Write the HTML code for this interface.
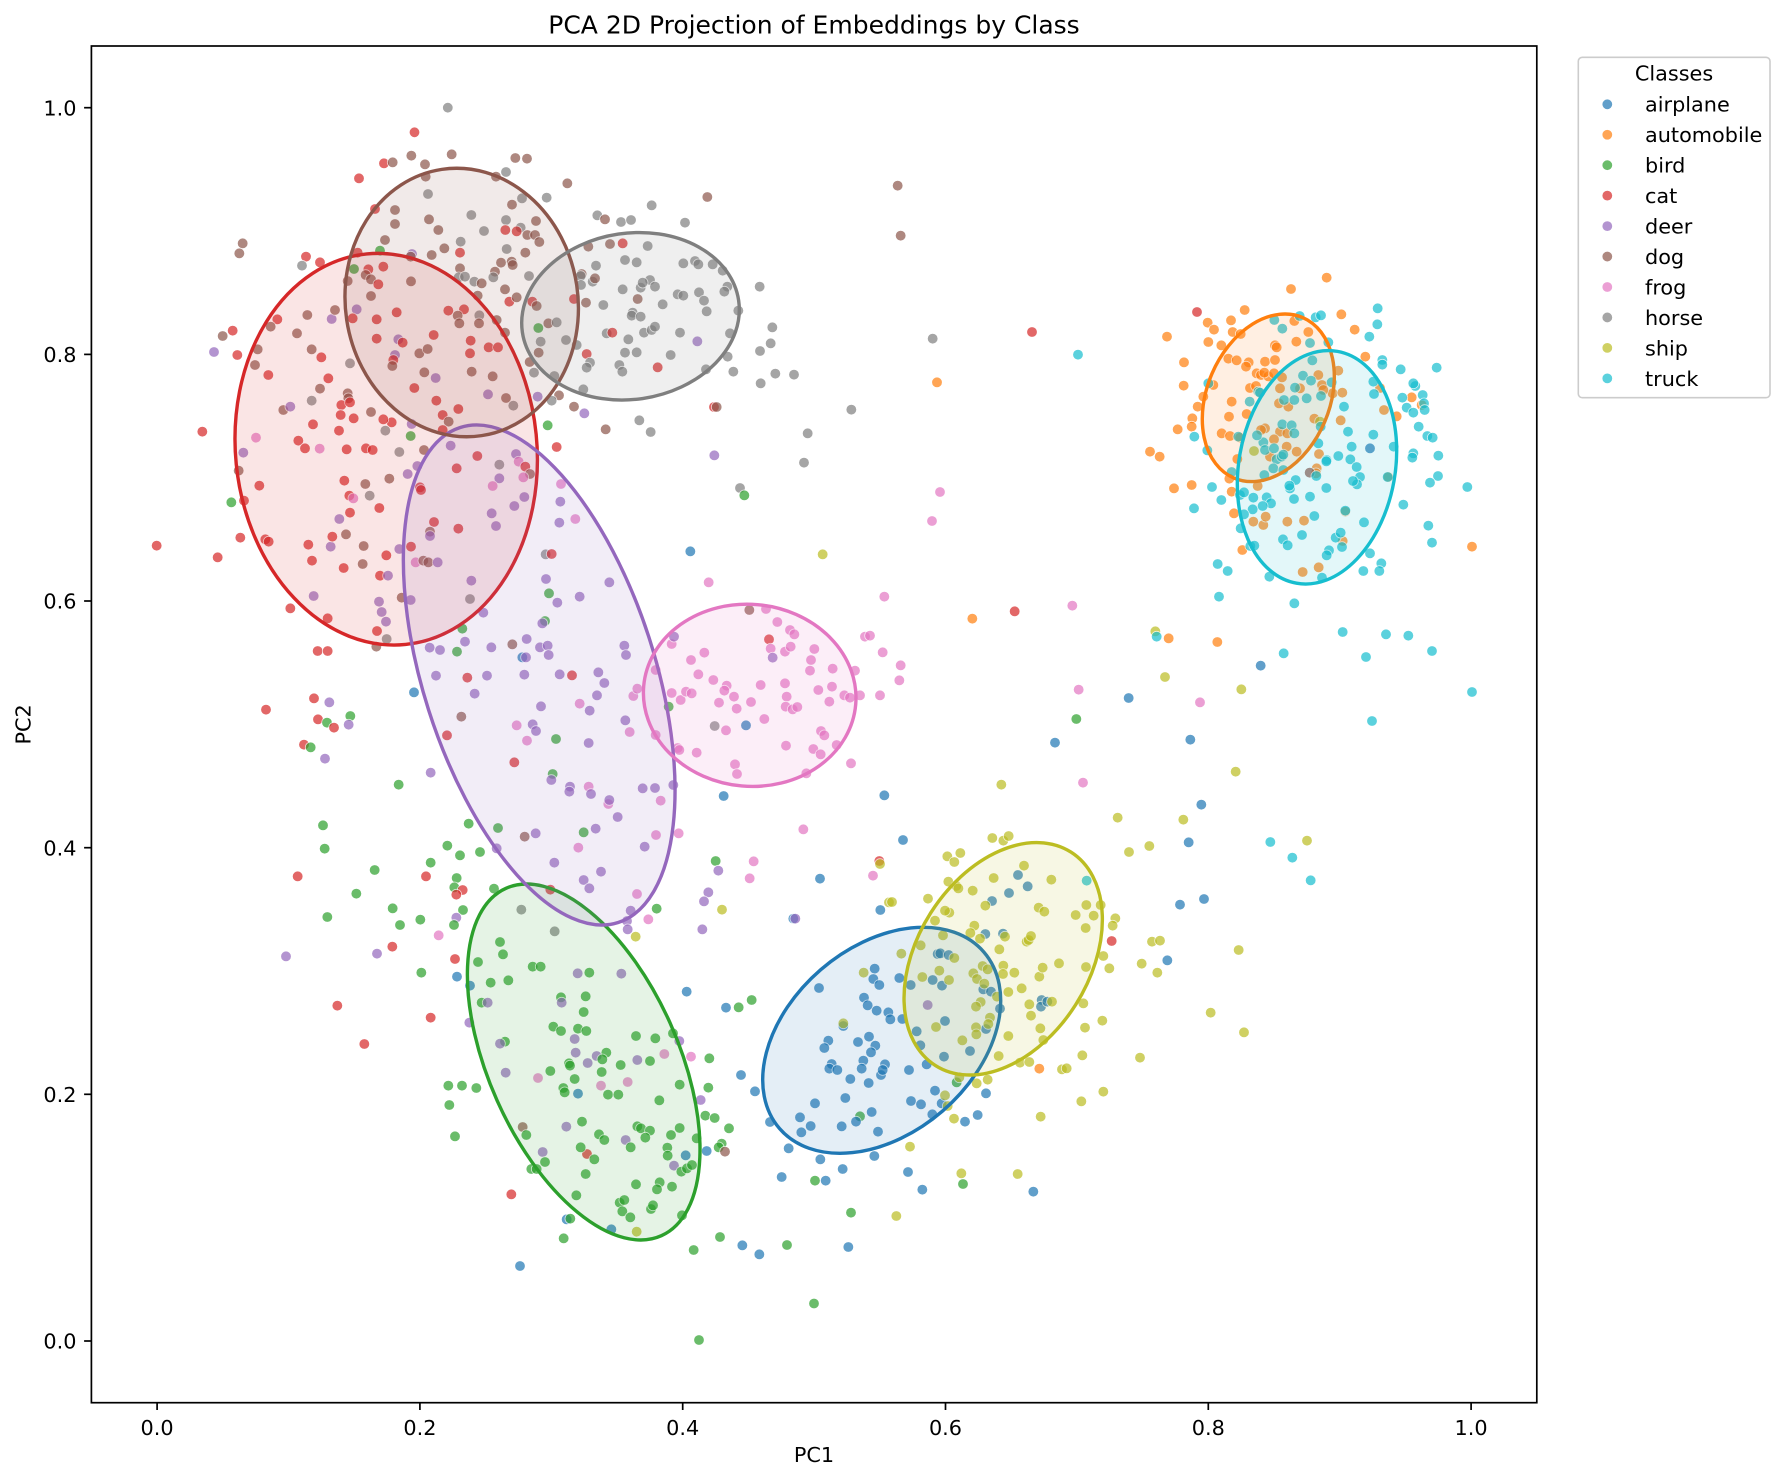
<!DOCTYPE html>
<html><head><meta charset="utf-8"><style>
html,body{margin:0;padding:0;background:#fff}
svg{display:block}
text{font-family:"DejaVu Sans","Liberation Sans",sans-serif;fill:#000}
circle{opacity:.7;stroke:#fff}
.z circle{stroke-width:2.4}
.o circle{stroke-width:.8}
.A{fill:#1f77b4}.M{fill:#ff7f0e}.B{fill:#2ca02c}.C{fill:#d62728}.D{fill:#9467bd}.G{fill:#8c564b}.F{fill:#e377c2}.H{fill:#7f7f7f}.S{fill:#bcbd22}.T{fill:#17becf}
</style></head><body>
<svg width="1785" height="1481" viewBox="0 0 1785 1481" xmlns="http://www.w3.org/2000/svg">
<rect width="1785" height="1481" fill="#fff"/>
<text x="814" y="33.3" font-size="25" text-anchor="middle">PCA 2D Projection of Embeddings by Class</text>

<!-- Z4 -->
<g class="z" transform="translate(220,150) scale(0.333333)">
<circle class="C" cx="492" cy="40" r="16"/><circle class="G" cx="518" cy="37" r="16"/><circle class="G" cx="574" cy="17" r="16"/><circle class="G" cx="615" cy="43" r="16"/><circle class="G" cx="695" cy="13" r="16"/><circle class="G" cx="886" cy="24" r="16"/><circle class="G" cx="921" cy="26" r="16"/><circle class="C" cx="417" cy="85" r="16"/><circle class="H" cx="858" cy="66" r="16"/><circle class="G" cx="828" cy="80" r="16"/><circle class="G" cx="617" cy="80" r="16"/><circle class="G" cx="1042" cy="100" r="16"/><circle class="G" cx="1462" cy="141" r="16"/><circle class="H" cx="1295" cy="166" r="16"/><circle class="H" cx="624" cy="132" r="16"/><circle class="H" cx="906" cy="145" r="16"/><circle class="H" cx="980" cy="143" r="16"/><circle class="C" cx="465" cy="177" r="16"/><circle class="G" cx="525" cy="180" r="16"/><circle class="G" cx="525" cy="222" r="16"/><circle class="G" cx="627" cy="208" r="16"/><circle class="G" cx="655" cy="240" r="16"/><circle class="H" cx="754" cy="195" r="16"/><circle class="G" cx="876" cy="164" r="16"/><circle class="H" cx="858" cy="210" r="16"/><circle class="H" cx="792" cy="243" r="16"/><circle class="H" cx="902" cy="233" r="16"/><circle class="C" cx="856" cy="240" r="16"/><circle class="C" cx="890" cy="244" r="16"/><circle class="G" cx="922" cy="255" r="16"/><circle class="G" cx="948" cy="213" r="16"/><circle class="G" cx="945" cy="255" r="16"/><circle class="G" cx="958" cy="276" r="16"/><circle class="H" cx="1132" cy="196" r="16"/><circle class="G" cx="1155" cy="208" r="16"/><circle class="H" cx="1203" cy="216" r="16"/><circle class="H" cx="1233" cy="210" r="16"/><circle class="H" cx="1395" cy="218" r="16"/><circle class="G" cx="495" cy="270" r="16"/><circle class="H" cx="722" cy="275" r="16"/><circle class="G" cx="673" cy="295" r="16"/><circle class="H" cx="860" cy="297" r="16"/><circle class="G" cx="916" cy="308" r="16"/><circle class="G" cx="68" cy="280" r="16"/><circle class="G" cx="58" cy="310" r="16"/><circle class="C" cx="258" cy="320" r="16"/><circle class="H" cx="246" cy="347" r="16"/><circle class="C" cx="300" cy="337" r="16"/><circle class="B" cx="480" cy="302" r="16"/><circle class="D" cx="576" cy="312" r="16"/><circle class="G" cx="572" cy="320" r="16"/><circle class="C" cx="720" cy="308" r="16"/><circle class="G" cx="635" cy="315" r="16"/><circle class="C" cx="413" cy="308" r="16"/><circle class="G" cx="1105" cy="290" r="16"/><circle class="G" cx="1170" cy="282" r="16"/><circle class="C" cx="1208" cy="280" r="16"/><circle class="H" cx="1283" cy="288" r="16"/><circle class="B" cx="402" cy="357" r="16"/><circle class="C" cx="445" cy="358" r="16"/><circle class="G" cx="437" cy="375" r="16"/><circle class="G" cx="453" cy="388" r="16"/><circle class="C" cx="490" cy="350" r="16"/><circle class="C" cx="475" cy="403" r="16"/><circle class="G" cx="383" cy="393" r="16"/><circle class="G" cx="573" cy="394" r="16"/><circle class="G" cx="720" cy="355" r="16"/><circle class="H" cx="716" cy="382" r="16"/><circle class="H" cx="735" cy="380" r="16"/><circle class="H" cx="763" cy="395" r="16"/><circle class="G" cx="785" cy="400" r="16"/><circle class="G" cx="825" cy="365" r="16"/><circle class="H" cx="820" cy="382" r="16"/><circle class="G" cx="843" cy="338" r="16"/><circle class="G" cx="875" cy="335" r="16"/><circle class="G" cx="878" cy="345" r="16"/><circle class="H" cx="927" cy="378" r="16"/><circle class="G" cx="855" cy="418" r="16"/><circle class="G" cx="773" cy="437" r="16"/><circle class="H" cx="1128" cy="347" r="16"/><circle class="G" cx="1085" cy="372" r="16"/><circle class="H" cx="1082" cy="378" r="16"/><circle class="H" cx="1083" cy="405" r="16"/><circle class="H" cx="1118" cy="395" r="16"/><circle class="G" cx="1125" cy="385" r="16"/><circle class="H" cx="1215" cy="330" r="16"/><circle class="H" cx="1250" cy="337" r="16"/><circle class="H" cx="1390" cy="340" r="16"/><circle class="H" cx="1425" cy="333" r="16"/><circle class="H" cx="1435" cy="343" r="16"/><circle class="H" cx="1478" cy="343" r="16"/><circle class="H" cx="1508" cy="362" r="16"/><circle class="H" cx="1522" cy="410" r="16"/><circle class="H" cx="1513" cy="425" r="16"/><circle class="G" cx="453" cy="438" r="16"/><circle class="C" cx="470" cy="508" r="16"/><circle class="C" cx="530" cy="487" r="16"/><circle class="D" cx="410" cy="478" r="16"/><circle class="D" cx="335" cy="507" r="16"/><circle class="G" cx="345" cy="480" r="16"/><circle class="G" cx="262" cy="495" r="16"/><circle class="C" cx="398" cy="505" r="16"/><circle class="C" cx="172" cy="508" r="16"/><circle class="G" cx="152" cy="530" r="16"/><circle class="G" cx="231" cy="550" r="16"/><circle class="C" cx="38" cy="542" r="16"/><circle class="G" cx="8" cy="558" r="16"/><circle class="C" cx="868" cy="455" r="16"/><circle class="G" cx="890" cy="442" r="16"/><circle class="C" cx="937" cy="455" r="16"/><circle class="G" cx="950" cy="468" r="16"/><circle class="C" cx="1062" cy="447" r="16"/><circle class="G" cx="1098" cy="458" r="16"/><circle class="H" cx="1150" cy="465" r="16"/><circle class="G" cx="1253" cy="447" r="16"/><circle class="H" cx="1208" cy="418" r="16"/><circle class="H" cx="1262" cy="413" r="16"/><circle class="H" cx="1290" cy="390" r="16"/><circle class="H" cx="1305" cy="410" r="16"/><circle class="H" cx="1268" cy="398" r="16"/><circle class="H" cx="1328" cy="463" r="16"/><circle class="H" cx="1373" cy="433" r="16"/><circle class="H" cx="1390" cy="437" r="16"/><circle class="H" cx="1437" cy="427" r="16"/><circle class="H" cx="1452" cy="452" r="16"/><circle class="H" cx="1460" cy="484" r="16"/><circle class="H" cx="1530" cy="550" r="16"/><circle class="H" cx="1555" cy="482" r="16"/><circle class="C" cx="685" cy="482" r="16"/><circle class="C" cx="732" cy="478" r="16"/><circle class="G" cx="713" cy="497" r="16"/><circle class="G" cx="718" cy="520" r="16"/><circle class="H" cx="778" cy="496" r="16"/><circle class="G" cx="777" cy="520" r="16"/><circle class="G" cx="830" cy="510" r="16"/><circle class="G" cx="855" cy="548" r="16"/><circle class="C" cx="470" cy="566" r="16"/><circle class="D" cx="535" cy="568" r="16"/><circle class="C" cx="548" cy="578" r="16"/><circle class="G" cx="275" cy="598" r="16"/><circle class="G" cx="113" cy="598" r="16"/><circle class="C" cx="304" cy="622" r="16"/><circle class="G" cx="105" cy="645" r="16"/><circle class="C" cx="52" cy="615" r="16"/><circle class="D" cx="525" cy="615" r="16"/><circle class="C" cx="520" cy="630" r="16"/><circle class="G" cx="517" cy="648" r="16"/><circle class="G" cx="598" cy="610" r="16"/><circle class="G" cx="623" cy="597" r="16"/><circle class="C" cx="641" cy="555" r="16"/><circle class="C" cx="752" cy="572" r="16"/><circle class="C" cx="750" cy="610" r="16"/><circle class="C" cx="806" cy="592" r="16"/><circle class="C" cx="834" cy="592" r="16"/><circle class="G" cx="755" cy="665" r="16"/><circle class="G" cx="818" cy="679" r="16"/><circle class="D" cx="647" cy="684" r="16"/><circle class="G" cx="613" cy="667" r="16"/><circle class="H" cx="390" cy="640" r="16"/><circle class="C" cx="145" cy="675" r="16"/><circle class="C" cx="325" cy="685" r="16"/><circle class="G" cx="300" cy="716" r="16"/><circle class="H" cx="275" cy="752" r="16"/><circle class="G" cx="190" cy="780" r="16"/><circle class="D" cx="211" cy="770" r="16"/><circle class="G" cx="383" cy="730" r="16"/><circle class="G" cx="385" cy="745" r="16"/><circle class="C" cx="364" cy="765" r="16"/><circle class="C" cx="390" cy="757" r="16"/><circle class="C" cx="362" cy="795" r="16"/><circle class="C" cx="401" cy="805" r="16"/><circle class="G" cx="453" cy="786" r="16"/><circle class="B" cx="955" cy="534" r="16"/><circle class="G" cx="985" cy="520" r="16"/><circle class="H" cx="1010" cy="517" r="16"/><circle class="H" cx="962" cy="575" r="16"/><circle class="H" cx="1038" cy="570" r="16"/><circle class="H" cx="1070" cy="585" r="16"/><circle class="C" cx="1100" cy="612" r="16"/><circle class="H" cx="1110" cy="638" r="16"/><circle class="H" cx="1100" cy="653" r="16"/><circle class="H" cx="1198" cy="645" r="16"/><circle class="H" cx="1207" cy="665" r="16"/><circle class="C" cx="1313" cy="652" r="16"/><circle class="H" cx="1215" cy="608" r="16"/><circle class="H" cx="1250" cy="607" r="16"/><circle class="H" cx="1225" cy="568" r="16"/><circle class="H" cx="1160" cy="550" r="16"/><circle class="C" cx="1177" cy="548" r="16"/><circle class="H" cx="1272" cy="548" r="16"/><circle class="H" cx="1295" cy="540" r="16"/><circle class="H" cx="1305" cy="530" r="16"/><circle class="H" cx="1380" cy="548" r="16"/><circle class="H" cx="1352" cy="615" r="16"/><circle class="H" cx="1458" cy="658" r="16"/><circle class="H" cx="1523" cy="620" r="16"/><circle class="H" cx="1540" cy="665" r="16"/><circle class="D" cx="1432" cy="574" r="16"/><circle class="H" cx="1238" cy="488" r="16"/><circle class="H" cx="1235" cy="497" r="16"/><circle class="H" cx="1262" cy="500" r="16"/><circle class="G" cx="929" cy="636" r="16"/><circle class="G" cx="956" cy="608" r="16"/><circle class="H" cx="942" cy="668" r="16"/><circle class="H" cx="1003" cy="678" r="16"/><circle class="D" cx="804" cy="733" r="16"/><circle class="G" cx="858" cy="744" r="16"/><circle class="H" cx="880" cy="767" r="16"/><circle class="C" cx="715" cy="777" r="16"/><circle class="C" cx="649" cy="752" r="16"/><circle class="C" cx="583" cy="714" r="16"/><circle class="C" cx="668" cy="795" r="16"/><circle class="G" cx="686" cy="815" r="16"/><circle class="C" cx="668" cy="840" r="16"/><circle class="C" cx="515" cy="817" r="16"/><circle class="C" cx="490" cy="808" r="16"/><circle class="C" cx="279" cy="823" r="16"/><circle class="C" cx="357" cy="842" r="16"/><circle class="D" cx="575" cy="822" r="16"/><circle class="B" cx="572" cy="858" r="16"/><circle class="H" cx="496" cy="842" r="16"/><circle class="C" cx="235" cy="872" r="16"/><circle class="C" cx="255" cy="895" r="16"/><circle class="C" cx="380" cy="898" r="16"/><circle class="C" cx="438" cy="895" r="16"/><circle class="C" cx="458" cy="900" r="16"/><circle class="F" cx="108" cy="863" r="16"/><circle class="F" cx="299" cy="896" r="16"/><circle class="D" cx="70" cy="908" r="16"/><circle class="H" cx="538" cy="906" r="16"/><circle class="G" cx="612" cy="900" r="16"/><circle class="H" cx="1090" cy="718" r="16"/><circle class="G" cx="1062" cy="770" r="16"/><circle class="G" cx="1017" cy="736" r="16"/><circle class="H" cx="995" cy="752" r="16"/><circle class="D" cx="953" cy="740" r="16"/><circle class="D" cx="1093" cy="790" r="16"/><circle class="G" cx="1157" cy="838" r="16"/><circle class="H" cx="1258" cy="811" r="16"/><circle class="H" cx="1292" cy="846" r="16"/><circle class="C" cx="1482" cy="771" r="16"/><circle class="G" cx="1490" cy="771" r="16"/><circle class="B" cx="983" cy="826" r="16"/><circle class="C" cx="1010" cy="891" r="16"/><circle class="D" cx="692" cy="887" r="16"/><circle class="C" cx="772" cy="918" r="16"/><circle class="C" cx="710" cy="955" r="16"/><circle class="H" cx="838" cy="944" r="16"/><circle class="D" cx="888" cy="912" r="16"/><circle class="F" cx="896" cy="935" r="16"/><circle class="C" cx="916" cy="950" r="16"/><circle class="G" cx="930" cy="972" r="16"/><circle class="D" cx="838" cy="985" r="16"/><circle class="F" cx="910" cy="982" r="16"/><circle class="F" cx="818" cy="1008" r="16"/><circle class="F" cx="1023" cy="1002" r="16"/><circle class="D" cx="1021" cy="1055" r="16"/><circle class="F" cx="1066" cy="1107" r="16"/><circle class="D" cx="1018" cy="1118" r="16"/><circle class="D" cx="883" cy="1068" r="16"/><circle class="D" cx="913" cy="1041" r="16"/><circle class="D" cx="815" cy="1090" r="16"/><circle class="D" cx="828" cy="1128" r="16"/><circle class="D" cx="1483" cy="916" r="16"/><circle class="D" cx="563" cy="972" r="16"/><circle class="D" cx="592" cy="948" r="16"/><circle class="C" cx="600" cy="1012" r="16"/><circle class="C" cx="603" cy="1020" r="16"/><circle class="G" cx="508" cy="986" r="16"/><circle class="G" cx="436" cy="1002" r="16"/><circle class="H" cx="449" cy="1037" r="16"/><circle class="C" cx="373" cy="992" r="16"/><circle class="C" cx="388" cy="1037" r="16"/><circle class="F" cx="400" cy="1045" r="16"/><circle class="C" cx="390" cy="1088" r="16"/><circle class="C" cx="478" cy="1074" r="16"/><circle class="G" cx="56" cy="962" r="16"/><circle class="C" cx="118" cy="1007" r="16"/><circle class="B" cx="34" cy="1057" r="16"/><circle class="C" cx="72" cy="1052" r="16"/><circle class="D" cx="358" cy="1107" r="16"/><circle class="C" cx="642" cy="1116" r="16"/><circle class="G" cx="630" cy="1145" r="16"/><circle class="D" cx="630" cy="1158" r="16"/><circle class="C" cx="715" cy="1136" r="16"/><circle class="C" cx="61" cy="1163" r="16"/><circle class="C" cx="136" cy="1168" r="16"/><circle class="C" cx="146" cy="1175" r="16"/><circle class="C" cx="265" cy="1184" r="16"/><circle class="D" cx="332" cy="1190" r="16"/><circle class="C" cx="337" cy="1160" r="16"/><circle class="G" cx="378" cy="1153" r="16"/><circle class="G" cx="431" cy="1188" r="16"/><circle class="C" cx="276" cy="1232" r="16"/><circle class="C" cx="371" cy="1254" r="16"/><circle class="G" cx="428" cy="1242" r="16"/><circle class="C" cx="499" cy="1216" r="16"/><circle class="D" cx="538" cy="1197" r="16"/><circle class="C" cx="573" cy="1190" r="16"/><circle class="F" cx="587" cy="1237" r="16"/><circle class="G" cx="610" cy="1232" r="16"/><circle class="G" cx="625" cy="1237" r="16"/><circle class="D" cx="653" cy="1237" r="16"/><circle class="C" cx="480" cy="1277" r="16"/><circle class="D" cx="504" cy="1277" r="16"/><circle class="H" cx="977" cy="1213" r="16"/><circle class="C" cx="995" cy="1212" r="16"/><circle class="A" cx="1411" cy="1204" r="16"/><circle class="F" cx="1466" cy="1297" r="16"/><circle class="D" cx="978" cy="1287" r="16"/><circle class="D" cx="1168" cy="1297" r="16"/><circle class="D" cx="754" cy="1292" r="16"/><circle class="H" cx="750" cy="1347" r="16"/><circle class="B" cx="987" cy="1330" r="16"/><circle class="D" cx="1012" cy="1358" r="16"/><circle class="D" cx="1079" cy="1340" r="16"/><circle class="D" cx="790" cy="1388" r="16"/><circle class="D" cx="281" cy="1338" r="16"/><circle class="C" cx="211" cy="1375" r="16"/><circle class="D" cx="477" cy="1355" r="16"/><circle class="D" cx="485" cy="1386" r="16"/><circle class="D" cx="498" cy="1415" r="16"/><circle class="C" cx="471" cy="1443" r="16"/><circle class="G" cx="545" cy="1343" r="16"/><circle class="D" cx="572" cy="1350" r="16"/><circle class="C" cx="323" cy="1405" r="16"/><circle class="C" cx="293" cy="1503" r="16"/><circle class="C" cx="323" cy="1503" r="16"/><circle class="G" cx="469" cy="1490" r="16"/><circle class="H" cx="500" cy="1467" r="16"/><circle class="B" cx="727" cy="1436" r="16"/><circle class="B" cx="975" cy="1413" r="16"/><circle class="D" cx="967" cy="1420" r="16"/><circle class="G" cx="877" cy="1483" r="16"/><circle class="D" cx="920" cy="1467" r="16"/><circle class="D" cx="960" cy="1492" r="16"/><circle class="D" cx="983" cy="1487" r="16"/><circle class="D" cx="986" cy="1515" r="16"/><circle class="D" cx="814" cy="1492" r="16"/><circle class="D" cx="735" cy="1475" r="16"/><circle class="D" cx="629" cy="1493" r="16"/><circle class="D" cx="660" cy="1500" r="16"/><circle class="B" cx="711" cy="1505" r="16"/><circle class="A" cx="907" cy="1522" r="16"/><circle class="D" cx="918" cy="1522" r="16"/><circle class="D" cx="1213" cy="1487" r="16"/><circle class="D" cx="1218" cy="1515" r="16"/><circle class="F" cx="1355" cy="1482" r="16"/><circle class="F" cx="1413" cy="1530" r="16"/><circle class="F" cx="1453" cy="1508" r="16"/><circle class="D" cx="1362" cy="1460" r="16"/>
</g>

<!-- Z5 -->
<g class="z" transform="translate(390,420) scale(0.333333)">
<circle class="H" cx="1253" cy="40" r="16"/><circle class="H" cx="1242" cy="128" r="16"/><circle class="H" cx="1050" cy="204" r="16"/><circle class="B" cx="1063" cy="226" r="16"/><circle class="S" cx="1298" cy="403" r="16"/><circle class="F" cx="1483" cy="530" r="16"/><circle class="F" cx="1425" cy="650" r="16"/><circle class="F" cx="1440" cy="647" r="16"/><circle class="F" cx="1478" cy="697" r="16"/><circle class="F" cx="1128" cy="567" r="16"/><circle class="G" cx="1078" cy="570" r="16"/><circle class="F" cx="1162" cy="606" r="16"/><circle class="F" cx="1200" cy="630" r="16"/><circle class="F" cx="1213" cy="643" r="16"/><circle class="C" cx="1137" cy="658" r="16"/><circle class="F" cx="1142" cy="686" r="16"/><circle class="D" cx="1148" cy="713" r="16"/><circle class="F" cx="1185" cy="695" r="16"/><circle class="F" cx="1202" cy="680" r="16"/><circle class="F" cx="1273" cy="687" r="16"/><circle class="F" cx="1263" cy="720" r="16"/>
<circle class="D" cx="138" cy="767" r="16"/><circle class="C" cx="232" cy="773" r="16"/><circle class="D" cx="291" cy="767" r="16"/><circle class="D" cx="403" cy="764" r="16"/><circle class="D" cx="509" cy="763" r="16"/><circle class="C" cx="546" cy="766" r="16"/><circle class="D" cx="625" cy="757" r="16"/><circle class="D" cx="643" cy="789" r="16"/><circle class="A" cx="72" cy="817" r="16"/><circle class="D" cx="254" cy="821" r="16"/><circle class="D" cx="621" cy="826" r="16"/><circle class="D" cx="453" cy="859" r="16"/><circle class="D" cx="599" cy="872" r="16"/><circle class="F" cx="569" cy="851" r="16"/><circle class="G" cx="214" cy="890" r="16"/><circle class="C" cx="171" cy="946" r="16"/><circle class="F" cx="380" cy="916" r="16"/><circle class="D" cx="428" cy="913" r="16"/><circle class="D" cx="438" cy="933" r="16"/><circle class="F" cx="411" cy="962" r="16"/><circle class="B" cx="498" cy="957" r="16"/><circle class="D" cx="596" cy="969" r="16"/><circle class="D" cx="706" cy="901" r="16"/><circle class="F" cx="719" cy="936" r="16"/><circle class="F" cx="730" cy="828" r="16"/><circle class="F" cx="742" cy="806" r="16"/><circle class="F" cx="797" cy="750" r="16"/><circle class="B" cx="836" cy="860" r="16"/><circle class="F" cx="797" cy="945" r="16"/><circle class="F" cx="845" cy="819" r="16"/><circle class="F" cx="872" cy="840" r="16"/><circle class="F" cx="888" cy="815" r="16"/><circle class="F" cx="905" cy="820" r="16"/><circle class="F" cx="925" cy="763" r="16"/><circle class="F" cx="970" cy="780" r="16"/><circle class="F" cx="1010" cy="797" r="16"/><circle class="F" cx="1003" cy="812" r="16"/><circle class="F" cx="987" cy="848" r="16"/><circle class="F" cx="1032" cy="830" r="16"/><circle class="F" cx="1040" cy="866" r="16"/><circle class="F" cx="1083" cy="846" r="16"/><circle class="F" cx="1112" cy="795" r="16"/><circle class="F" cx="1185" cy="790" r="16"/><circle class="F" cx="1190" cy="830" r="16"/><circle class="F" cx="1187" cy="860" r="16"/><circle class="F" cx="1208" cy="868" r="16"/><circle class="F" cx="1222" cy="861" r="16"/><circle class="F" cx="1123" cy="897" r="16"/><circle class="H" cx="974" cy="918" r="16"/><circle class="F" cx="1008" cy="931" r="16"/><circle class="A" cx="1068" cy="916" r="16"/><circle class="F" cx="1285" cy="810" r="16"/><circle class="F" cx="1326" cy="800" r="16"/><circle class="F" cx="1328" cy="746" r="16"/><circle class="F" cx="1260" cy="752" r="16"/><circle class="F" cx="1318" cy="845" r="16"/><circle class="F" cx="1293" cy="933" r="16"/><circle class="F" cx="1303" cy="946" r="16"/><circle class="F" cx="1340" cy="975" r="16"/><circle class="F" cx="1270" cy="987" r="16"/><circle class="F" cx="1292" cy="1003" r="16"/><circle class="F" cx="1188" cy="977" r="16"/><circle class="F" cx="1035" cy="1033" r="16"/><circle class="F" cx="1041" cy="1062" r="16"/><circle class="F" cx="1249" cy="1060" r="16"/><circle class="F" cx="1363" cy="826" r="16"/><circle class="F" cx="1380" cy="833" r="16"/><circle class="F" cx="1410" cy="826" r="16"/><circle class="F" cx="1470" cy="826" r="16"/><circle class="F" cx="1395" cy="752" r="16"/><circle class="F" cx="1383" cy="1030" r="16"/><circle class="F" cx="920" cy="998" r="16"/><circle class="F" cx="863" cy="984" r="16"/><circle class="F" cx="868" cy="990" r="16"/><circle class="D" cx="850" cy="1095" r="16"/><circle class="D" cx="758" cy="1105" r="16"/><circle class="D" cx="795" cy="1104" r="16"/><circle class="F" cx="812" cy="1142" r="16"/><circle class="F" cx="655" cy="1152" r="16"/><circle class="D" cx="658" cy="1140" r="16"/><circle class="D" cx="683" cy="1191" r="16"/><circle class="D" cx="540" cy="1100" r="16"/><circle class="D" cx="538" cy="1115" r="16"/><circle class="F" cx="596" cy="1100" r="16"/><circle class="D" cx="603" cy="1122" r="16"/><circle class="B" cx="488" cy="1062" r="16"/><circle class="D" cx="484" cy="1080" r="16"/><circle class="C" cx="373" cy="1027" r="16"/><circle class="D" cx="122" cy="1058" r="16"/><circle class="B" cx="26" cy="1094" r="16"/><circle class="A" cx="1001" cy="1128" r="16"/><circle class="A" cx="1483" cy="1126" r="16"/><circle class="F" cx="1240" cy="1228" r="16"/><circle class="F" cx="866" cy="1240" r="16"/><circle class="F" cx="798" cy="1245" r="16"/><circle class="D" cx="764" cy="1280" r="16"/><circle class="D" cx="617" cy="1226" r="16"/><circle class="B" cx="581" cy="1237" r="16"/><circle class="F" cx="565" cy="1283" r="16"/><circle class="D" cx="437" cy="1240" r="16"/><circle class="G" cx="404" cy="1250" r="16"/><circle class="B" cx="324" cy="1224" r="16"/><circle class="D" cx="320" cy="1285" r="16"/><circle class="D" cx="493" cy="1328" r="16"/><circle class="D" cx="581" cy="1380" r="16"/><circle class="D" cx="598" cy="1405" r="16"/><circle class="D" cx="633" cy="1355" r="16"/><circle class="F" cx="741" cy="1422" r="16"/><circle class="D" cx="722" cy="1472" r="16"/><circle class="B" cx="800" cy="1466" r="16"/><circle class="F" cx="775" cy="1498" r="16"/><circle class="D" cx="711" cy="1503" r="16"/><circle class="D" cx="713" cy="1528" r="16"/><circle class="B" cx="977" cy="1323" r="16"/><circle class="D" cx="985" cy="1352" r="16"/><circle class="F" cx="1091" cy="1324" r="16"/><circle class="F" cx="1079" cy="1375" r="16"/><circle class="A" cx="1290" cy="1376" r="16"/><circle class="F" cx="1449" cy="1367" r="16"/><circle class="C" cx="1468" cy="1323" r="16"/><circle class="S" cx="1470" cy="1332" r="16"/><circle class="D" cx="955" cy="1417" r="16"/><circle class="D" cx="942" cy="1444" r="16"/><circle class="S" cx="996" cy="1469" r="16"/><circle class="D" cx="937" cy="1528" r="16"/><circle class="A" cx="1210" cy="1496" r="16"/><circle class="D" cx="1216" cy="1496" r="16"/><circle class="A" cx="1471" cy="1470" r="16"/><circle class="S" cx="1497" cy="1447" r="16"/><circle class="B" cx="236" cy="1211" r="16"/><circle class="B" cx="172" cy="1277" r="16"/><circle class="B" cx="210" cy="1306" r="16"/><circle class="B" cx="270" cy="1296" r="16"/><circle class="B" cx="122" cy="1328" r="16"/><circle class="C" cx="108" cy="1369" r="16"/><circle class="B" cx="200" cy="1374" r="16"/><circle class="B" cx="193" cy="1402" r="16"/><circle class="C" cx="218" cy="1410" r="16"/><circle class="C" cx="199" cy="1424" r="16"/><circle class="B" cx="312" cy="1406" r="16"/><circle class="B" cx="219" cy="1470" r="16"/><circle class="B" cx="8" cy="1465" r="16"/><circle class="B" cx="91" cy="1499" r="16"/><circle class="B" cx="30" cy="1515" r="16"/><circle class="D" cx="199" cy="1493" r="16"/><circle class="B" cx="192" cy="1515" r="16"/><circle class="F" cx="146" cy="1546" r="16"/><circle class="H" cx="394" cy="1469" r="16"/><circle class="H" cx="494" cy="1534" r="16"/><circle class="C" cx="481" cy="1409" r="16"/><circle class="S" cx="737" cy="1550" r="16"/>
</g>

<!-- Z6 -->
<g class="z" transform="translate(450,860) scale(0.333333)">
<circle class="B" cx="150" cy="246" r="16"/><circle class="B" cx="159" cy="283" r="16"/><circle class="B" cx="84" cy="306" r="16"/><circle class="C" cx="15" cy="297" r="16"/><circle class="A" cx="21" cy="350" r="16"/><circle class="A" cx="60" cy="377" r="16"/><circle class="B" cx="122" cy="368" r="16"/><circle class="B" cx="175" cy="361" r="16"/><circle class="B" cx="248" cy="320" r="16"/><circle class="B" cx="272" cy="320" r="16"/><circle class="D" cx="383" cy="340" r="16"/><circle class="B" cx="418" cy="338" r="16"/><circle class="D" cx="514" cy="341" r="16"/><circle class="A" cx="710" cy="395" r="16"/><circle class="B" cx="905" cy="420" r="16"/><circle class="A" cx="828" cy="443" r="16"/><circle class="B" cx="866" cy="442" r="16"/><circle class="B" cx="95" cy="428" r="16"/><circle class="D" cx="113" cy="428" r="16"/><circle class="B" cx="333" cy="412" r="16"/><circle class="D" cx="335" cy="428" r="16"/><circle class="B" cx="407" cy="409" r="16"/><circle class="B" cx="401" cy="456" r="16"/><circle class="D" cx="58" cy="488" r="16"/><circle class="B" cx="310" cy="500" r="16"/><circle class="B" cx="333" cy="513" r="16"/><circle class="B" cx="384" cy="506" r="16"/><circle class="B" cx="409" cy="513" r="16"/><circle class="D" cx="374" cy="537" r="16"/><circle class="B" cx="165" cy="545" r="16"/><circle class="D" cx="150" cy="551" r="16"/><circle class="B" cx="558" cy="528" r="16"/><circle class="B" cx="616" cy="535" r="16"/><circle class="B" cx="669" cy="520" r="16"/><circle class="D" cx="688" cy="543" r="16"/><circle class="F" cx="643" cy="582" r="16"/><circle class="F" cx="723" cy="590" r="16"/><circle class="B" cx="778" cy="595" r="16"/><circle class="D" cx="377" cy="578" r="16"/><circle class="D" cx="440" cy="588" r="16"/><circle class="B" cx="469" cy="578" r="16"/><circle class="B" cx="457" cy="598" r="16"/><circle class="B" cx="357" cy="610" r="16"/><circle class="B" cx="360" cy="617" r="16"/><circle class="D" cx="413" cy="609" r="16"/><circle class="B" cx="512" cy="615" r="16"/><circle class="D" cx="562" cy="600" r="16"/><circle class="B" cx="600" cy="603" r="16"/><circle class="B" cx="455" cy="636" r="16"/><circle class="B" cx="374" cy="657" r="16"/><circle class="B" cx="301" cy="633" r="16"/><circle class="F" cx="264" cy="654" r="16"/><circle class="D" cx="167" cy="638" r="16"/><circle class="B" cx="36" cy="677" r="16"/><circle class="B" cx="79" cy="684" r="16"/><circle class="B" cx="340" cy="684" r="16"/><circle class="B" cx="344" cy="697" r="16"/><circle class="A" cx="384" cy="701" r="16"/><circle class="F" cx="453" cy="677" r="16"/><circle class="B" cx="474" cy="704" r="16"/><circle class="B" cx="505" cy="704" r="16"/><circle class="F" cx="533" cy="666" r="16"/><circle class="B" cx="689" cy="674" r="16"/><circle class="B" cx="628" cy="721" r="16"/><circle class="B" cx="775" cy="683" r="16"/><circle class="D" cx="752" cy="720" r="16"/><circle class="A" cx="873" cy="645" r="16"/><circle class="A" cx="915" cy="694" r="16"/><circle class="B" cx="15" cy="829" r="16"/><circle class="G" cx="218" cy="801" r="16"/><circle class="B" cx="229" cy="825" r="16"/><circle class="D" cx="349" cy="800" r="16"/><circle class="B" cx="396" cy="785" r="16"/><circle class="B" cx="447" cy="823" r="16"/><circle class="B" cx="463" cy="840" r="16"/><circle class="D" cx="527" cy="840" r="16"/><circle class="B" cx="542" cy="862" r="16"/><circle class="B" cx="562" cy="799" r="16"/><circle class="B" cx="573" cy="805" r="16"/><circle class="B" cx="600" cy="812" r="16"/><circle class="B" cx="586" cy="833" r="16"/><circle class="B" cx="663" cy="825" r="16"/><circle class="B" cx="689" cy="804" r="16"/><circle class="B" cx="740" cy="835" r="16"/><circle class="B" cx="766" cy="767" r="16"/><circle class="B" cx="794" cy="774" r="16"/><circle class="B" cx="837" cy="805" r="16"/><circle class="B" cx="815" cy="851" r="16"/><circle class="B" cx="806" cy="862" r="16"/><circle class="G" cx="825" cy="875" r="16"/><circle class="A" cx="770" cy="873" r="16"/><circle class="B" cx="652" cy="863" r="16"/><circle class="B" cx="653" cy="887" r="16"/><circle class="A" cx="707" cy="886" r="16"/><circle class="D" cx="672" cy="917" r="16"/><circle class="B" cx="694" cy="935" r="16"/><circle class="B" cx="711" cy="925" r="16"/><circle class="B" cx="726" cy="915" r="16"/><circle class="D" cx="278" cy="876" r="16"/><circle class="B" cx="285" cy="906" r="16"/><circle class="B" cx="244" cy="927" r="16"/><circle class="B" cx="260" cy="927" r="16"/><circle class="C" cx="411" cy="882" r="16"/><circle class="B" cx="433" cy="898" r="16"/><circle class="B" cx="392" cy="862" r="16"/><circle class="B" cx="407" cy="942" r="16"/><circle class="C" cx="184" cy="1003" r="16"/><circle class="B" cx="558" cy="973" r="16"/><circle class="B" cx="629" cy="967" r="16"/><circle class="B" cx="621" cy="988" r="16"/><circle class="B" cx="666" cy="980" r="16"/><circle class="B" cx="379" cy="1006" r="16"/><circle class="B" cx="509" cy="1028" r="16"/><circle class="B" cx="523" cy="1020" r="16"/><circle class="B" cx="517" cy="1054" r="16"/><circle class="B" cx="541" cy="1072" r="16"/><circle class="B" cx="603" cy="1047" r="16"/><circle class="B" cx="609" cy="1036" r="16"/><circle class="B" cx="696" cy="1066" r="16"/><circle class="A" cx="350" cy="1078" r="16"/><circle class="B" cx="361" cy="1076" r="16"/><circle class="A" cx="484" cy="1108" r="16"/><circle class="S" cx="560" cy="1115" r="16"/><circle class="B" cx="341" cy="1135" r="16"/><circle class="B" cx="731" cy="1170" r="16"/><circle class="B" cx="810" cy="1131" r="16"/><circle class="A" cx="877" cy="1156" r="16"/><circle class="A" cx="928" cy="1183" r="16"/><circle class="B" cx="1011" cy="1155" r="16"/><circle class="A" cx="1195" cy="1161" r="16"/>
</g>

<!-- Z7 -->
<g class="z" transform="translate(760,820) scale(0.333333)">
<circle class="A" cx="312" cy="533" r="16"/><circle class="A" cx="323" cy="556" r="16"/><circle class="A" cx="350" cy="572" r="16"/><circle class="A" cx="385" cy="577" r="16"/><circle class="A" cx="391" cy="598" r="16"/><circle class="A" cx="427" cy="597" r="16"/><circle class="A" cx="250" cy="618" r="16"/><circle class="A" cx="205" cy="662" r="16"/><circle class="A" cx="193" cy="684" r="16"/><circle class="A" cx="294" cy="666" r="16"/><circle class="A" cx="327" cy="650" r="16"/><circle class="A" cx="346" cy="677" r="16"/><circle class="A" cx="333" cy="697" r="16"/><circle class="A" cx="310" cy="722" r="16"/><circle class="A" cx="305" cy="746" r="16"/><circle class="A" cx="215" cy="732" r="16"/><circle class="A" cx="208" cy="746" r="16"/><circle class="A" cx="232" cy="750" r="16"/><circle class="A" cx="271" cy="777" r="16"/><circle class="A" cx="326" cy="789" r="16"/><circle class="A" cx="375" cy="733" r="16"/><circle class="A" cx="363" cy="765" r="16"/><circle class="A" cx="368" cy="750" r="16"/><circle class="A" cx="447" cy="750" r="16"/><circle class="A" cx="500" cy="733" r="16"/><circle class="A" cx="552" cy="710" r="16"/><circle class="A" cx="256" cy="834" r="16"/><circle class="A" cx="165" cy="850" r="16"/><circle class="A" cx="120" cy="892" r="16"/><circle class="A" cx="152" cy="918" r="16"/><circle class="A" cx="124" cy="937" r="16"/><circle class="A" cx="245" cy="919" r="16"/><circle class="B" cx="300" cy="889" r="16"/><circle class="A" cx="288" cy="905" r="16"/><circle class="A" cx="335" cy="876" r="16"/><circle class="A" cx="354" cy="935" r="16"/><circle class="A" cx="453" cy="843" r="16"/><circle class="A" cx="483" cy="853" r="16"/><circle class="A" cx="525" cy="812" r="16"/><circle class="A" cx="545" cy="850" r="16"/><circle class="A" cx="517" cy="883" r="16"/><circle class="B" cx="590" cy="787" r="16"/><circle class="A" cx="678" cy="820" r="16"/><circle class="A" cx="653" cy="885" r="16"/><circle class="A" cx="615" cy="905" r="16"/><circle class="A" cx="30" cy="906" r="16"/><circle class="A" cx="86" cy="985" r="16"/><circle class="A" cx="181" cy="1018" r="16"/><circle class="A" cx="248" cy="1047" r="16"/><circle class="A" cx="343" cy="1008" r="16"/><circle class="A" cx="65" cy="1071" r="16"/><circle class="B" cx="165" cy="1082" r="16"/><circle class="A" cx="197" cy="1082" r="16"/><circle class="A" cx="444" cy="1056" r="16"/><circle class="A" cx="487" cy="1109" r="16"/><circle class="B" cx="609" cy="1092" r="16"/><circle class="A" cx="820" cy="1115" r="16"/><circle class="B" cx="273" cy="1178" r="16"/><circle class="D" cx="503" cy="555" r="16"/><circle class="A" cx="533" cy="402" r="16"/><circle class="A" cx="541" cy="400" r="16"/><circle class="A" cx="566" cy="405" r="16"/><circle class="A" cx="518" cy="480" r="16"/><circle class="A" cx="546" cy="497" r="16"/><circle class="A" cx="452" cy="495" r="16"/><circle class="A" cx="418" cy="474" r="16"/><circle class="A" cx="344" cy="446" r="16"/><circle class="A" cx="340" cy="477" r="16"/><circle class="A" cx="358" cy="495" r="16"/><circle class="A" cx="177" cy="504" r="16"/><circle class="A" cx="670" cy="508" r="16"/><circle class="A" cx="693" cy="515" r="16"/><circle class="A" cx="720" cy="566" r="16"/><circle class="A" cx="678" cy="627" r="16"/><circle class="A" cx="555" cy="603" r="16"/><circle class="A" cx="470" cy="634" r="16"/><circle class="A" cx="481" cy="676" r="16"/><circle class="A" cx="630" cy="693" r="16"/><circle class="A" cx="845" cy="540" r="16"/><circle class="A" cx="843" cy="560" r="16"/><circle class="A" cx="862" cy="545" r="16"/>
<circle class="S" cx="424" cy="401" r="16"/><circle class="S" cx="482" cy="376" r="16"/><circle class="S" cx="583" cy="414" r="16"/><circle class="S" cx="538" cy="452" r="16"/><circle class="S" cx="487" cy="471" r="16"/><circle class="S" cx="567" cy="480" r="16"/><circle class="S" cx="311" cy="458" r="16"/><circle class="S" cx="668" cy="438" r="16"/><circle class="S" cx="683" cy="448" r="16"/><circle class="S" cx="640" cy="460" r="16"/><circle class="S" cx="651" cy="477" r="16"/><circle class="S" cx="673" cy="491" r="16"/><circle class="S" cx="730" cy="437" r="16"/><circle class="S" cx="729" cy="462" r="16"/><circle class="S" cx="763" cy="458" r="16"/><circle class="S" cx="718" cy="388" r="16"/><circle class="S" cx="800" cy="365" r="16"/><circle class="S" cx="806" cy="360" r="16"/><circle class="S" cx="838" cy="470" r="16"/><circle class="S" cx="848" cy="443" r="16"/><circle class="S" cx="897" cy="430" r="16"/><circle class="S" cx="978" cy="441" r="16"/><circle class="S" cx="1048" cy="445" r="16"/><circle class="S" cx="1030" cy="408" r="16"/><circle class="S" cx="1145" cy="431" r="16"/><circle class="S" cx="1192" cy="458" r="16"/><circle class="S" cx="1176" cy="365" r="16"/><circle class="S" cx="1200" cy="362" r="16"/><circle class="C" cx="1055" cy="363" r="16"/><circle class="S" cx="745" cy="516" r="16"/><circle class="S" cx="785" cy="505" r="16"/><circle class="S" cx="711" cy="530" r="16"/><circle class="S" cx="662" cy="546" r="16"/><circle class="S" cx="648" cy="560" r="16"/><circle class="S" cx="690" cy="593" r="16"/><circle class="S" cx="685" cy="612" r="16"/><circle class="S" cx="648" cy="622" r="16"/><circle class="S" cx="649" cy="643" r="16"/><circle class="S" cx="528" cy="621" r="16"/><circle class="S" cx="607" cy="661" r="16"/><circle class="S" cx="808" cy="553" r="16"/><circle class="S" cx="813" cy="587" r="16"/><circle class="S" cx="876" cy="545" r="16"/><circle class="S" cx="841" cy="625" r="16"/><circle class="S" cx="850" cy="660" r="16"/><circle class="S" cx="745" cy="648" r="16"/><circle class="S" cx="970" cy="550" r="16"/><circle class="S" cx="975" cy="623" r="16"/><circle class="S" cx="1027" cy="602" r="16"/><circle class="S" cx="967" cy="706" r="16"/><circle class="S" cx="716" cy="708" r="16"/><circle class="S" cx="780" cy="728" r="16"/><circle class="S" cx="808" cy="726" r="16"/><circle class="M" cx="838" cy="746" r="16"/><circle class="S" cx="906" cy="748" r="16"/><circle class="S" cx="920" cy="745" r="16"/><circle class="S" cx="1140" cy="713" r="16"/><circle class="S" cx="964" cy="844" r="16"/><circle class="S" cx="1030" cy="815" r="16"/><circle class="S" cx="842" cy="890" r="16"/><circle class="S" cx="250" cy="610" r="16"/><circle class="S" cx="555" cy="826" r="16"/><circle class="S" cx="563" cy="858" r="16"/><circle class="S" cx="598" cy="772" r="16"/><circle class="S" cx="650" cy="790" r="16"/><circle class="S" cx="683" cy="779" r="16"/><circle class="S" cx="582" cy="896" r="16"/><circle class="S" cx="450" cy="980" r="16"/><circle class="S" cx="604" cy="1060" r="16"/><circle class="S" cx="773" cy="1062" r="16"/><circle class="S" cx="409" cy="1188" r="16"/>
</g>

<!-- Z12 -->
<g class="z" transform="translate(890,600) scale(0.333333)">
<circle class="F" cx="547" cy="17" r="16"/><circle class="C" cx="374" cy="34" r="16"/><circle class="M" cx="247" cy="56" r="16"/><circle class="S" cx="796" cy="94" r="16"/><circle class="T" cx="800" cy="110" r="16"/><circle class="M" cx="836" cy="115" r="16"/><circle class="M" cx="982" cy="126" r="16"/><circle class="T" cx="1358" cy="96" r="16"/><circle class="T" cx="1488" cy="103" r="16"/><circle class="T" cx="1555" cy="107" r="16"/><circle class="T" cx="1428" cy="171" r="16"/><circle class="T" cx="1181" cy="160" r="16"/><circle class="A" cx="1112" cy="197" r="16"/><circle class="S" cx="825" cy="231" r="16"/><circle class="S" cx="1054" cy="268" r="16"/><circle class="T" cx="1446" cy="363" r="16"/><circle class="F" cx="32" cy="196" r="16"/><circle class="F" cx="28" cy="241" r="16"/><circle class="F" cx="566" cy="269" r="16"/><circle class="A" cx="716" cy="294" r="16"/><circle class="F" cx="930" cy="307" r="16"/><circle class="B" cx="559" cy="357" r="16"/><circle class="A" cx="495" cy="428" r="16"/><circle class="A" cx="901" cy="419" r="16"/><circle class="S" cx="1037" cy="515" r="16"/><circle class="S" cx="334" cy="554" r="16"/><circle class="F" cx="579" cy="548" r="16"/><circle class="A" cx="934" cy="614" r="16"/><circle class="S" cx="683" cy="653" r="16"/><circle class="S" cx="880" cy="659" r="16"/><circle class="A" cx="39" cy="720" r="16"/><circle class="S" cx="307" cy="714" r="16"/><circle class="S" cx="340" cy="722" r="16"/><circle class="S" cx="356" cy="708" r="16"/><circle class="S" cx="172" cy="769" r="16"/><circle class="S" cx="211" cy="759" r="16"/><circle class="S" cx="193" cy="786" r="16"/><circle class="S" cx="717" cy="756" r="16"/><circle class="S" cx="778" cy="738" r="16"/><circle class="A" cx="896" cy="727" r="16"/><circle class="T" cx="1141" cy="726" r="16"/><circle class="T" cx="1207" cy="773" r="16"/><circle class="S" cx="1251" cy="722" r="16"/><circle class="T" cx="1262" cy="841" r="16"/><circle class="S" cx="402" cy="797" r="16"/><circle class="A" cx="384" cy="825" r="16"/><circle class="A" cx="413" cy="859" r="16"/><circle class="A" cx="357" cy="879" r="16"/><circle class="S" cx="311" cy="834" r="16"/><circle class="S" cx="484" cy="839" r="16"/><circle class="T" cx="590" cy="842" r="16"/><circle class="S" cx="175" cy="845" r="16"/><circle class="S" cx="199" cy="858" r="16"/><circle class="S" cx="205" cy="865" r="16"/><circle class="S" cx="248" cy="872" r="16"/><circle class="A" cx="306" cy="903" r="16"/><circle class="S" cx="114" cy="896" r="16"/><circle class="S" cx="6" cy="906" r="16"/><circle class="S" cx="286" cy="917" r="16"/><circle class="S" cx="446" cy="923" r="16"/><circle class="S" cx="463" cy="935" r="16"/><circle class="S" cx="589" cy="915" r="16"/><circle class="S" cx="632" cy="915" r="16"/><circle class="S" cx="557" cy="945" r="16"/><circle class="S" cx="611" cy="947" r="16"/><circle class="S" cx="676" cy="955" r="16"/><circle class="S" cx="668" cy="977" r="16"/><circle class="S" cx="587" cy="984" r="16"/><circle class="S" cx="178" cy="938" r="16"/><circle class="S" cx="165" cy="932" r="16"/><circle class="A" cx="870" cy="914" r="16"/><circle class="A" cx="942" cy="897" r="16"/><circle class="S" cx="135" cy="962" r="16"/><circle class="S" cx="253" cy="977" r="16"/><circle class="S" cx="241" cy="999" r="16"/><circle class="A" cx="286" cy="1002" r="16"/><circle class="A" cx="339" cy="1001" r="16"/><circle class="S" cx="345" cy="1010" r="16"/><circle class="S" cx="270" cy="1016" r="16"/><circle class="S" cx="159" cy="1006" r="16"/><circle class="S" cx="423" cy="1008" r="16"/><circle class="S" cx="1046" cy="1050" r="16"/><circle class="A" cx="832" cy="1081" r="16"/><circle class="S" cx="1062" cy="1297" r="16"/><circle class="S" cx="962" cy="1238" r="16"/>
</g>

<!-- Z8 -->
<g class="z" transform="translate(1150,260) scale(0.333333)">
<circle class="M" cx="530" cy="53" r="16"/><circle class="M" cx="423" cy="87" r="16"/><circle class="C" cx="141" cy="156" r="16"/><circle class="M" cx="284" cy="150" r="16"/><circle class="M" cx="173" cy="188" r="16"/><circle class="M" cx="192" cy="209" r="16"/><circle class="M" cx="243" cy="181" r="16"/><circle class="M" cx="248" cy="216" r="16"/><circle class="M" cx="272" cy="222" r="16"/><circle class="M" cx="433" cy="183" r="16"/><circle class="M" cx="574" cy="163" r="16"/><circle class="M" cx="614" cy="209" r="16"/><circle class="M" cx="51" cy="230" r="16"/><circle class="M" cx="175" cy="246" r="16"/><circle class="M" cx="214" cy="256" r="16"/><circle class="M" cx="475" cy="216" r="16"/><circle class="M" cx="439" cy="245" r="16"/><circle class="M" cx="375" cy="256" r="16"/><circle class="M" cx="380" cy="262" r="16"/><circle class="M" cx="646" cy="290" r="16"/><circle class="M" cx="102" cy="307" r="16"/><circle class="M" cx="235" cy="296" r="16"/><circle class="M" cx="260" cy="301" r="16"/><circle class="M" cx="296" cy="307" r="16"/><circle class="M" cx="288" cy="320" r="16"/><circle class="M" cx="345" cy="305" r="16"/><circle class="M" cx="375" cy="300" r="16"/><circle class="M" cx="320" cy="340" r="16"/><circle class="M" cx="333" cy="345" r="16"/><circle class="M" cx="355" cy="349" r="16"/><circle class="M" cx="343" cy="338" r="16"/><circle class="M" cx="372" cy="340" r="16"/><circle class="M" cx="396" cy="352" r="16"/><circle class="M" cx="101" cy="377" r="16"/><circle class="M" cx="190" cy="375" r="16"/><circle class="M" cx="300" cy="384" r="16"/><circle class="M" cx="318" cy="378" r="16"/><circle class="M" cx="390" cy="385" r="16"/><circle class="M" cx="505" cy="345" r="16"/><circle class="M" cx="516" cy="375" r="16"/><circle class="M" cx="565" cy="332" r="16"/><circle class="M" cx="690" cy="384" r="16"/><circle class="M" cx="160" cy="410" r="16"/><circle class="M" cx="143" cy="440" r="16"/><circle class="M" cx="245" cy="425" r="16"/><circle class="M" cx="237" cy="470" r="16"/><circle class="M" cx="290" cy="462" r="16"/><circle class="M" cx="127" cy="475" r="16"/><circle class="M" cx="125" cy="500" r="16"/><circle class="M" cx="83" cy="508" r="16"/><circle class="M" cx="215" cy="520" r="16"/><circle class="M" cx="240" cy="528" r="16"/><circle class="M" cx="270" cy="533" r="16"/><circle class="M" cx="450" cy="385" r="16"/><circle class="M" cx="387" cy="430" r="16"/><circle class="M" cx="415" cy="440" r="16"/><circle class="M" cx="548" cy="400" r="16"/><circle class="M" cx="577" cy="398" r="16"/><circle class="M" cx="520" cy="390" r="16"/><circle class="M" cx="785" cy="412" r="16"/><circle class="M" cx="815" cy="435" r="16"/><circle class="M" cx="702" cy="450" r="16"/><circle class="M" cx="740" cy="469" r="16"/><circle class="M" cx="966" cy="860" r="16"/><circle class="M" cx="493" cy="476" r="16"/><circle class="M" cx="572" cy="481" r="16"/><circle class="M" cx="507" cy="582" r="16"/><circle class="M" cx="500" cy="625" r="16"/><circle class="M" cx="498" cy="640" r="16"/><circle class="M" cx="360" cy="590" r="16"/><circle class="M" cx="410" cy="560" r="16"/><circle class="M" cx="440" cy="575" r="16"/><circle class="M" cx="345" cy="505" r="16"/><circle class="M" cx="333" cy="510" r="16"/><circle class="M" cx="390" cy="515" r="16"/><circle class="M" cx="372" cy="538" r="16"/><circle class="M" cx="412" cy="520" r="16"/><circle class="M" cx="262" cy="597" r="16"/><circle class="M" cx="29" cy="590" r="16"/><circle class="M" cx="0" cy="575" r="16"/><circle class="M" cx="238" cy="656" r="16"/><circle class="M" cx="72" cy="685" r="16"/><circle class="M" cx="125" cy="675" r="16"/><circle class="M" cx="245" cy="695" r="16"/><circle class="M" cx="323" cy="678" r="16"/><circle class="M" cx="412" cy="785" r="16"/><circle class="M" cx="462" cy="782" r="16"/><circle class="M" cx="252" cy="760" r="16"/><circle class="M" cx="310" cy="785" r="16"/><circle class="M" cx="340" cy="795" r="16"/><circle class="M" cx="347" cy="770" r="16"/><circle class="M" cx="578" cy="843" r="16"/><circle class="M" cx="586" cy="755" r="16"/><circle class="M" cx="715" cy="651" r="16"/><circle class="M" cx="506" cy="922" r="16"/><circle class="M" cx="458" cy="936" r="16"/><circle class="M" cx="277" cy="870" r="16"/>
<circle class="G" cx="479" cy="638" r="16"/><circle class="S" cx="510" cy="485" r="16"/><circle class="S" cx="312" cy="573" r="16"/><circle class="A" cx="660" cy="565" r="16"/>
<circle class="T" cx="373" cy="180" r="16"/><circle class="T" cx="449" cy="168" r="16"/><circle class="T" cx="497" cy="172" r="16"/><circle class="T" cx="513" cy="166" r="16"/><circle class="T" cx="683" cy="145" r="16"/><circle class="T" cx="682" cy="193" r="16"/><circle class="T" cx="658" cy="230" r="16"/><circle class="T" cx="397" cy="206" r="16"/><circle class="T" cx="480" cy="249" r="16"/><circle class="T" cx="535" cy="247" r="16"/><circle class="T" cx="175" cy="370" r="16"/><circle class="T" cx="325" cy="395" r="16"/><circle class="T" cx="487" cy="301" r="16"/><circle class="T" cx="459" cy="347" r="16"/><circle class="T" cx="483" cy="362" r="16"/><circle class="T" cx="545" cy="367" r="16"/><circle class="T" cx="697" cy="300" r="16"/><circle class="T" cx="697" cy="314" r="16"/><circle class="T" cx="752" cy="328" r="16"/><circle class="T" cx="860" cy="323" r="16"/><circle class="T" cx="670" cy="365" r="16"/><circle class="T" cx="672" cy="402" r="16"/><circle class="T" cx="299" cy="425" r="16"/><circle class="T" cx="133" cy="530" r="16"/><circle class="T" cx="330" cy="398" r="16"/><circle class="T" cx="435" cy="383" r="16"/><circle class="T" cx="402" cy="420" r="16"/><circle class="T" cx="433" cy="420" r="16"/><circle class="T" cx="470" cy="415" r="16"/><circle class="T" cx="513" cy="408" r="16"/><circle class="T" cx="582" cy="440" r="16"/><circle class="T" cx="757" cy="413" r="16"/><circle class="T" cx="770" cy="443" r="16"/><circle class="T" cx="796" cy="378" r="16"/><circle class="T" cx="790" cy="370" r="16"/><circle class="T" cx="818" cy="405" r="16"/><circle class="T" cx="822" cy="430" r="16"/><circle class="T" cx="824" cy="450" r="16"/><circle class="T" cx="790" cy="458" r="16"/><circle class="T" cx="806" cy="500" r="16"/><circle class="T" cx="832" cy="528" r="16"/><circle class="T" cx="848" cy="533" r="16"/><circle class="T" cx="865" cy="587" r="16"/><circle class="T" cx="790" cy="580" r="16"/><circle class="T" cx="787" cy="593" r="16"/><circle class="T" cx="731" cy="560" r="16"/><circle class="T" cx="864" cy="648" r="16"/><circle class="T" cx="840" cy="668" r="16"/><circle class="T" cx="952" cy="681" r="16"/><circle class="T" cx="760" cy="734" r="16"/><circle class="T" cx="835" cy="797" r="16"/><circle class="T" cx="846" cy="848" r="16"/><circle class="T" cx="512" cy="500" r="16"/><circle class="T" cx="594" cy="515" r="16"/><circle class="T" cx="670" cy="524" r="16"/><circle class="T" cx="605" cy="560" r="16"/><circle class="T" cx="565" cy="588" r="16"/><circle class="T" cx="530" cy="600" r="16"/><circle class="T" cx="601" cy="598" r="16"/><circle class="T" cx="620" cy="621" r="16"/><circle class="T" cx="630" cy="651" r="16"/><circle class="T" cx="621" cy="673" r="16"/><circle class="T" cx="609" cy="663" r="16"/><circle class="T" cx="505" cy="550" r="16"/><circle class="T" cx="529" cy="604" r="16"/><circle class="T" cx="499" cy="648" r="16"/><circle class="T" cx="340" cy="547" r="16"/><circle class="T" cx="345" cy="570" r="16"/><circle class="T" cx="372" cy="565" r="16"/><circle class="T" cx="380" cy="598" r="16"/><circle class="T" cx="395" cy="590" r="16"/><circle class="T" cx="400" cy="584" r="16"/><circle class="T" cx="321" cy="526" r="16"/><circle class="T" cx="397" cy="493" r="16"/><circle class="T" cx="425" cy="496" r="16"/><circle class="T" cx="433" cy="520" r="16"/><circle class="T" cx="265" cy="530" r="16"/><circle class="T" cx="172" cy="571" r="16"/><circle class="T" cx="245" cy="636" r="16"/><circle class="T" cx="343" cy="645" r="16"/><circle class="T" cx="370" cy="625" r="16"/><circle class="T" cx="400" cy="630" r="16"/><circle class="T" cx="437" cy="660" r="16"/><circle class="T" cx="420" cy="685" r="16"/><circle class="T" cx="418" cy="677" r="16"/><circle class="T" cx="186" cy="681" r="16"/><circle class="T" cx="214" cy="720" r="16"/><circle class="T" cx="132" cy="745" r="16"/><circle class="T" cx="270" cy="705" r="16"/><circle class="T" cx="282" cy="697" r="16"/><circle class="T" cx="310" cy="713" r="16"/><circle class="T" cx="350" cy="712" r="16"/><circle class="T" cx="363" cy="730" r="16"/><circle class="T" cx="308" cy="748" r="16"/><circle class="T" cx="338" cy="738" r="16"/><circle class="T" cx="480" cy="710" r="16"/><circle class="T" cx="432" cy="717" r="16"/><circle class="T" cx="529" cy="684" r="16"/><circle class="T" cx="493" cy="768" r="16"/><circle class="T" cx="456" cy="825" r="16"/><circle class="T" cx="399" cy="838" r="16"/><circle class="T" cx="413" cy="856" r="16"/><circle class="T" cx="282" cy="763" r="16"/><circle class="T" cx="272" cy="805" r="16"/><circle class="T" cx="557" cy="833" r="16"/><circle class="T" cx="572" cy="818" r="16"/><circle class="T" cx="576" cy="861" r="16"/><circle class="T" cx="586" cy="752" r="16"/><circle class="T" cx="537" cy="871" r="16"/><circle class="T" cx="530" cy="886" r="16"/><circle class="T" cx="642" cy="787" r="16"/><circle class="T" cx="713" cy="651" r="16"/><circle class="T" cx="660" cy="880" r="16"/><circle class="T" cx="694" cy="910" r="16"/><circle class="T" cx="688" cy="933" r="16"/><circle class="T" cx="640" cy="933" r="16"/><circle class="T" cx="516" cy="953" r="16"/><circle class="T" cx="358" cy="950" r="16"/><circle class="T" cx="301" cy="858" r="16"/><circle class="T" cx="313" cy="857" r="16"/><circle class="T" cx="203" cy="912" r="16"/><circle class="T" cx="233" cy="933" r="16"/><circle class="T" cx="207" cy="1010" r="16"/><circle class="T" cx="433" cy="1030" r="16"/>
</g>

<!-- Z9 -->
<g class="z" transform="translate(85,150) scale(0.333333)">
<circle class="D" cx="387" cy="606" r="16"/><circle class="C" cx="352" cy="845" r="16"/><circle class="C" cx="215" cy="1187" r="16"/><circle class="C" cx="398" cy="1222" r="16"/>
</g>

<!-- Z10 -->
<g class="z" transform="translate(85,640) scale(0.333333)">
<circle class="C" cx="543" cy="209" r="16"/><circle class="C" cx="687" cy="175" r="16"/><circle class="D" cx="733" cy="187" r="16"/><circle class="C" cx="699" cy="238" r="16"/><circle class="B" cx="726" cy="248" r="16"/><circle class="C" cx="747" cy="263" r="16"/><circle class="B" cx="796" cy="228" r="16"/><circle class="D" cx="791" cy="254" r="16"/><circle class="C" cx="657" cy="314" r="16"/><circle class="B" cx="677" cy="322" r="16"/><circle class="D" cx="720" cy="356" r="16"/><circle class="B" cx="714" cy="556" r="16"/><circle class="B" cx="719" cy="626" r="16"/><circle class="C" cx="638" cy="709" r="16"/><circle class="B" cx="869" cy="690" r="16"/><circle class="B" cx="814" cy="761" r="16"/><circle class="B" cx="727" cy="831" r="16"/><circle class="D" cx="876" cy="941" r="16"/><circle class="C" cx="922" cy="920" r="16"/><circle class="B" cx="1009" cy="998" r="16"/><circle class="D" cx="603" cy="949" r="16"/><circle class="C" cx="757" cy="1097" r="16"/><circle class="C" cx="1037" cy="1133" r="16"/><circle class="C" cx="838" cy="1212" r="16"/><circle class="B" cx="1090" cy="1337" r="16"/><circle class="B" cx="1093" cy="1395" r="16"/>
</g>

<!-- Z11 -->
<g class="z" transform="translate(740,40) scale(0.333333)">
<circle class="G" cx="473" cy="437" r="16"/><circle class="G" cx="482" cy="587" r="16"/><circle class="H" cx="59" cy="740" r="16"/><circle class="H" cx="97" cy="862" r="16"/><circle class="H" cx="92" cy="910" r="16"/><circle class="H" cx="60" cy="933" r="16"/><circle class="H" cx="106" cy="1001" r="16"/><circle class="H" cx="162" cy="1004" r="16"/><circle class="H" cx="62" cy="1030" r="16"/><circle class="H" cx="334" cy="1109" r="16"/><circle class="H" cx="578" cy="896" r="16"/><circle class="M" cx="591" cy="1027" r="16"/><circle class="C" cx="876" cy="876" r="16"/><circle class="T" cx="1014" cy="944" r="16"/>
</g>

<!-- misc -->
<g class="o">
<circle class="H" cx="447.8" cy="107.7" r="5.3"/><circle class="C" cx="414.5" cy="132.3" r="5.3"/><circle class="F" cx="940" cy="492" r="5.3"/><circle class="F" cx="932" cy="521" r="5.3"/><circle class="T" cx="1432" cy="651" r="5.3"/><circle class="T" cx="1472" cy="692" r="5.3"/><circle class="A" cx="520" cy="1266" r="5.3"/><circle class="B" cx="699" cy="1340" r="5.3"/><circle class="B" cx="814" cy="1303.5" r="5.3"/>
</g>

<!-- ellipses -->
<g stroke-width="3.4">
<ellipse cx="881.7" cy="1040.3" rx="135" ry="93.3" transform="rotate(-40.8 881.7 1040.3)" fill="#1f77b4" fill-opacity="0.12" stroke="#1f77b4"/>
<ellipse cx="1268.3" cy="397.8" rx="61.3" ry="87.3" transform="rotate(23.2 1268.3 397.8)" fill="#ff7f0e" fill-opacity="0.12" stroke="#ff7f0e"/>
<ellipse cx="583.7" cy="1062" rx="94.8" ry="190.3" transform="rotate(-24.1 583.7 1062)" fill="#2ca02c" fill-opacity="0.12" stroke="#2ca02c"/>
<ellipse cx="386.2" cy="449.2" rx="150.7" ry="196.2" transform="rotate(-5.7 386.2 449.2)" fill="#d62728" fill-opacity="0.12" stroke="#d62728"/>
<ellipse cx="539.2" cy="675" rx="116" ry="259.8" transform="rotate(-17.7 539.2 675)" fill="#9467bd" fill-opacity="0.12" stroke="#9467bd"/>
<ellipse cx="461.7" cy="302.5" rx="116.3" ry="134.6" transform="rotate(-8.5 461.7 302.5)" fill="#8c564b" fill-opacity="0.12" stroke="#8c564b"/>
<ellipse cx="749.7" cy="695.3" rx="106.4" ry="91" transform="rotate(5 749.7 695.3)" fill="#e377c2" fill-opacity="0.12" stroke="#e377c2"/>
<ellipse cx="630.5" cy="316.3" rx="109.3" ry="83.1" transform="rotate(-8.4 630.5 316.3)" fill="#7f7f7f" fill-opacity="0.12" stroke="#7f7f7f"/>
<ellipse cx="1003.2" cy="958.8" rx="85.8" ry="126.4" transform="rotate(32.4 1003.2 958.8)" fill="#bcbd22" fill-opacity="0.12" stroke="#bcbd22"/>
<ellipse cx="1317" cy="467.3" rx="78.2" ry="117.7" transform="rotate(10 1317 467.3)" fill="#17becf" fill-opacity="0.12" stroke="#17becf"/>
</g>

<!-- axes frame -->
<rect x="91.4" y="46" width="1445.4" height="1356.7" fill="none" stroke="#000" stroke-width="1.7"/>
<g stroke="#000" stroke-width="1.7">
<line x1="157.1" y1="1402.7" x2="157.1" y2="1410"/>
<line x1="419.9" y1="1402.7" x2="419.9" y2="1410"/>
<line x1="682.7" y1="1402.7" x2="682.7" y2="1410"/>
<line x1="945.5" y1="1402.7" x2="945.5" y2="1410"/>
<line x1="1208.3" y1="1402.7" x2="1208.3" y2="1410"/>
<line x1="1471.1" y1="1402.7" x2="1471.1" y2="1410"/>
<line x1="84.1" y1="1341" x2="91.4" y2="1341"/>
<line x1="84.1" y1="1094.3" x2="91.4" y2="1094.3"/>
<line x1="84.1" y1="847.7" x2="91.4" y2="847.7"/>
<line x1="84.1" y1="601" x2="91.4" y2="601"/>
<line x1="84.1" y1="354.4" x2="91.4" y2="354.4"/>
<line x1="84.1" y1="107.7" x2="91.4" y2="107.7"/>
</g>
<g font-size="20.8" text-anchor="middle">
<text x="157.1" y="1435">0.0</text>
<text x="419.9" y="1435">0.2</text>
<text x="682.7" y="1435">0.4</text>
<text x="945.5" y="1435">0.6</text>
<text x="1208.3" y="1435">0.8</text>
<text x="1471.1" y="1435">1.0</text>
</g>
<g font-size="20.8" text-anchor="end">
<text x="76.5" y="1348.6">0.0</text>
<text x="76.5" y="1101.9">0.2</text>
<text x="76.5" y="855.3">0.4</text>
<text x="76.5" y="608.6">0.6</text>
<text x="76.5" y="362">0.8</text>
<text x="76.5" y="115.3">1.0</text>
</g>
<text x="814" y="1462" font-size="20.8" text-anchor="middle">PC1</text>
<text transform="translate(30.4 724.4) rotate(-90)" font-size="20.8" text-anchor="middle">PC2</text>

<!-- legend -->
<rect x="1578.3" y="57.3" width="191.7" height="340.4" rx="4" fill="#fff" fill-opacity="0.8" stroke="#cccccc" stroke-width="1.6"/>
<text x="1674" y="80.7" font-size="20.8" text-anchor="middle">Classes</text>
<g class="o">
<circle class="A" cx="1607.3" cy="104.3" r="5.3"/>
<circle class="M" cx="1607.3" cy="134.75" r="5.3"/>
<circle class="B" cx="1607.3" cy="165.2" r="5.3"/>
<circle class="C" cx="1607.3" cy="195.65" r="5.3"/>
<circle class="D" cx="1607.3" cy="226.1" r="5.3"/>
<circle class="G" cx="1607.3" cy="256.55" r="5.3"/>
<circle class="F" cx="1607.3" cy="287" r="5.3"/>
<circle class="H" cx="1607.3" cy="317.45" r="5.3"/>
<circle class="S" cx="1607.3" cy="347.9" r="5.3"/>
<circle class="T" cx="1607.3" cy="378.35" r="5.3"/>
</g>
<g font-size="20.8">
<text x="1645" y="111.7">airplane</text>
<text x="1645" y="142.15">automobile</text>
<text x="1645" y="172.6">bird</text>
<text x="1645" y="203.05">cat</text>
<text x="1645" y="233.5">deer</text>
<text x="1645" y="263.95">dog</text>
<text x="1645" y="294.4">frog</text>
<text x="1645" y="324.85">horse</text>
<text x="1645" y="355.3">ship</text>
<text x="1645" y="385.75">truck</text>
</g>
</svg>
</body></html>
